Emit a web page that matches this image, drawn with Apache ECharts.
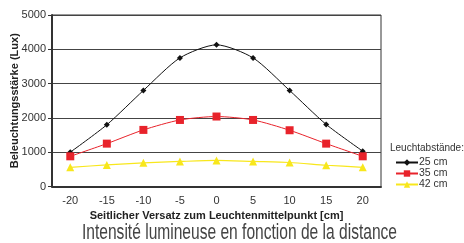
<!DOCTYPE html>
<html>
<head>
<meta charset="utf-8">
<script src="https://cdn.jsdelivr.net/npm/echarts@6/dist/echarts.min.js"></script>
<style>
  html, body { margin: 0; padding: 0; background: #fff; }
  #chart { width: 464px; height: 243px; }
</style>
</head>
<body>
<div id="chart"></div>
<script>
// Seitlicher Versatz [cm]
const offsets = ['-20', '-15', '-10', '-5', '0', '5', '10', '15', '20'];
// Beleuchtungsstärke (Lux) per distance
const lux25 = [1000, 1800, 2800, 3750, 4130, 3750, 2800, 1810, 1030];
const lux35 = [880, 1250, 1650, 1940, 2040, 1940, 1640, 1250, 880];
const lux42 = [560, 630, 690, 730, 760, 730, 700, 620, 560];
const seriesNames = ['25 cm', '35 cm', '42 cm'];

const chart = echarts.init(document.getElementById('chart'));

// the caption is a condensed face; squeeze a regular one to the same width
const titleText = 'Intensité lumineuse en fonction de la distance';
const titleFont = '22px "Liberation Sans"';
const ctx = document.createElement('canvas').getContext('2d');
ctx.font = titleFont;
const titleScale = 315 / ctx.measureText(titleText).width;

const option = {
  animation: false,
  grid: { left: 52, right: 83, top: 15, bottom: 56.5, outerBoundsMode: 'none',
    show: true, borderColor: '#333', borderWidth: 1 },
  xAxis: {
    type: 'category',
    data: offsets,
    boundaryGap: true,
    axisLine: { lineStyle: { color: '#333', width: 2 } },
    axisTick: { show: false },
    axisLabel: { color: '#333', fontSize: 11, fontFamily: 'Liberation Sans', margin: 9 },
    name: 'Seitlicher Versatz zum Leuchtenmittelpunkt [cm]',
    nameLocation: 'middle',
    nameMoveOverlap: false,
    nameGap: 24,
    nameTextStyle: { color: '#222', fontSize: 11, fontWeight: 'bold', fontFamily: 'Liberation Sans' }
  },
  yAxis: {
    type: 'value',
    min: 0, max: 5000, interval: 1000,
    axisLine: { show: true, lineStyle: { color: '#333', width: 2 } },
    axisTick: { show: true, length: 4, lineStyle: { color: '#333' } },
    splitLine: { lineStyle: { color: '#444', width: 1 } },
    axisLabel: { color: '#333', fontSize: 11, fontFamily: 'Liberation Sans', margin: 6,
      formatter: v => String(v) },
    name: 'Beleuchtungsstärke (Lux)',
    nameLocation: 'middle',
    nameMoveOverlap: false,
    nameGap: 32,
    nameTextStyle: { color: '#222', fontSize: 11, fontWeight: 'bold', fontFamily: 'Liberation Sans' }
  },
  legend: {
    orient: 'vertical',
    left: 390, top: 152,
    itemWidth: 22, itemHeight: 8, itemGap: 0,
    textStyle: { color: '#333', fontSize: 10.5, fontFamily: 'Liberation Sans', padding: [0, 0, 0, -4] },
    data: seriesNames
  },
  graphic: [
    { type: 'text', left: 390, top: 143,
      style: { text: 'Leuchtabstände:', fill: '#333', font: '10px "Liberation Sans"' } },
    { type: 'text', x: 82, y: 233, scaleX: titleScale,
      style: { text: titleText, fill: '#444', font: titleFont, verticalAlign: 'middle' } }
  ],
  series: [
    { name: seriesNames[0], type: 'line', data: lux25, smooth: 0.25,
      symbol: 'diamond', symbolSize: 6,
      lineStyle: { color: '#111', width: 1 }, itemStyle: { color: '#111' } },
    { name: seriesNames[1], type: 'line', data: lux35, smooth: 0.25,
      symbol: 'rect', symbolSize: 8,
      lineStyle: { color: '#e8232b', width: 1 }, itemStyle: { color: '#e8232b' } },
    { name: seriesNames[2], type: 'line', data: lux42, smooth: 0.25,
      symbol: 'triangle', symbolSize: 8,
      lineStyle: { color: '#f8e71c', width: 1.2 }, itemStyle: { color: '#f8e71c' } }
  ]
};

chart.setOption(option);
</script>
</body>
</html>
